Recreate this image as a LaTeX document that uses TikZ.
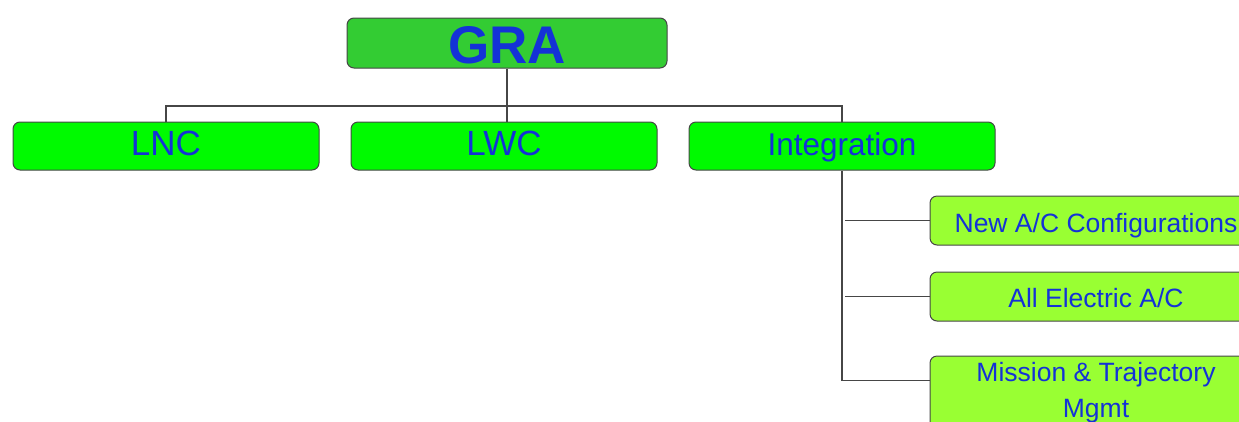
\documentclass[tikz,border=0pt]{standalone}
\usepackage{fontspec}
\setmainfont{Liberation Sans}
\definecolor{topgreen}{RGB}{51,204,51}
\definecolor{midgreen}{RGB}{0,250,0}
\definecolor{leafgreen}{RGB}{153,255,51}
\definecolor{labelblue}{RGB}{20,50,215}
\definecolor{edgegray}{RGB}{70,70,70}
\begin{document}
\begin{tikzpicture}[x=1pt,y=-1pt,
  box/.style={draw=edgegray, line width=1pt, rounded corners=7pt, inner sep=0pt,
              align=center, text=labelblue},
  topbox/.style={box, fill=topgreen, minimum width=320pt, minimum height=50pt,
                 font=\fontsize{53}{53}\selectfont\bfseries,
                 text height=40pt, text depth=0pt},
  midbox/.style={box, fill=midgreen, minimum width=306pt, minimum height=48pt,
                 font=\fontsize{35}{35}\selectfont,
                 text height=18pt, text depth=0pt},
  leafbox/.style={box, fill=leafgreen, minimum width=332pt, minimum height=49pt,
                  font=\fontsize{26.5}{33}\selectfont, text depth=0pt},
  link/.style={draw=edgegray, line width=1.3pt}]
\useasboundingbox (0,0) rectangle (1239,421);
\clip (0,0) rectangle (1239,421);

\coordinate (busleft) at (166,106);
\node[topbox] (gra) at (507,43) {GRA};
\node[midbox] (lnc) at (166,146) {LNC};
\node[midbox] (lwc) at (504,146) {LWC};
\node[midbox, font=\fontsize{31.5}{31.5}\selectfont] (integ) at (842,146) {Integration};

\node[leafbox, text height=24pt] (newac) at (1096,220.5) {New A/C Configurations};
\node[leafbox, text height=21pt] (allelec) at (1096,296.5) {All Electric A/C};
\node[leafbox, anchor=base, text height=61pt, text depth=20pt] (mission) at (1096,417)
  {\shortstack{Mission \& Trajectory\\[9pt]Mgmt}};
\coordinate (missjoin) at ([yshift=-25pt]mission.north west);

% tree connectors
\draw[link] (lnc.north) -- (busleft) -| (integ.north);
\draw[link] (gra.south) -- (gra.south |- lwc.north);
\draw[link] (integ.south) |- (missjoin);
\draw[link] (integ.south |- newac.west) ++(3,0) -- (newac.west);
\draw[link] (integ.south |- allelec.west) ++(3,0) -- (allelec.west);
\end{tikzpicture}
\end{document}
